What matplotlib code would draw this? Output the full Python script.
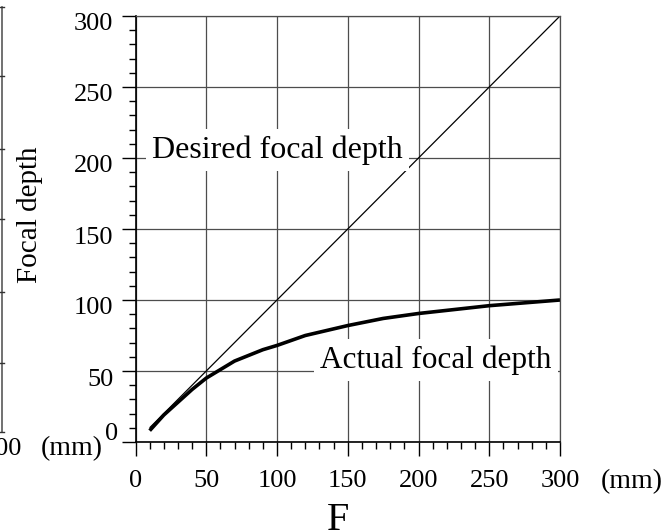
import numpy as np
import matplotlib
matplotlib.use("Agg")
import matplotlib.pyplot as plt
from matplotlib.ticker import MultipleLocator
from matplotlib.transforms import ScaledTranslation

plt.rcParams['font.family'] = ['Liberation Serif', 'DejaVu Serif']

# Focal length F (mm) and resulting focal depth (mm)
f_desired = [10, 300]
depth_desired = [10, 300]

f_actual = [10, 20, 30, 40, 50, 60, 70, 80, 90, 100, 120, 150, 175, 200, 250, 300]
depth_actual = [8, 19, 28, 37, 45, 51, 57, 61, 65, 68, 75, 82, 87, 90.5, 96, 100]

x_ticks = [0, 50, 100, 150, 200, 250, 300]
y_ticks = [0, 50, 100, 150, 200, 250, 300]

W, H = 666, 531
fig = plt.figure(figsize=(W / 100, H / 100), dpi=100)
ax = fig.add_axes([135.5 / W, 1 - 442 / H, (560 - 135.5) / W, (442 - 16) / H])

grid_col = '0.3'
ax.set_xlim(0, 300)
ax.set_ylim(0, 300)
ax.set_xticks(x_ticks)
ax.set_yticks(y_ticks)
ax.xaxis.set_minor_locator(MultipleLocator(10))
ax.yaxis.set_minor_locator(MultipleLocator(10))
ax.grid(True, which='major', color=grid_col, lw=0.9)
ax.set_axisbelow(True)
ax.tick_params(which='major', direction='out', length=10, width=1.0,
               labelsize=19, color='black')
ax.tick_params(which='minor', direction='out', length=5, width=1.0, color='black')
ax.tick_params(axis='x', pad=10)
ax.tick_params(axis='y', pad=6)
for s in ['left', 'bottom']:
    ax.spines[s].set_linewidth(1.2)
for s in ['top', 'right']:
    ax.spines[s].set_color(grid_col)
    ax.spines[s].set_linewidth(0.9)

# nudge y tick labels (0 sits up and in, others slightly down)
for lab, v in zip(ax.get_yticklabels(), y_ticks):
    dx, dy = (5, 10) if v == 0 else (0, -6)
    lab.set_transform(lab.get_transform() +
                      ScaledTranslation(dx / 100, dy / 100, fig.dpi_scale_trans))

ax.plot(f_desired, depth_desired, color='black', lw=0.9, solid_capstyle='butt')
ax.plot(f_actual, depth_actual, color='black', lw=2.6, solid_capstyle='butt')

box = dict(boxstyle='square,pad=0.2', fc='white', ec='none')
ax.text(11.7, 200, 'Desired focal depth', fontsize=23, ha='left', va='baseline', bbox=box)
ax.text(130.5, 52, 'Actual focal depth', fontsize=22.5, ha='left', va='baseline', bbox=box)

fig.text(30 / W, 1 - 215 / H, 'Focal depth', rotation=90, fontsize=21,
         ha='center', va='center')
fig.text(338 / W, 1 - 520 / H, 'F', fontsize=29, ha='center', va='center')
fig.text(632 / W, 1 - 482 / H, '(mm)', fontsize=20, ha='center', va='center')
fig.text(72 / W, 1 - 449 / H, '(mm)', fontsize=20, ha='center', va='center')
fig.text(22 / W, 1 - 449 / H, '300', fontsize=19, ha='right', va='center')

# edge of the neighbouring panel's axis
edge_x = 1.5 / W
fig.add_artist(plt.Line2D([edge_x, edge_x], [1 - 7 / H, 1 - 432 / H],
                          transform=fig.transFigure, color='0.35', lw=1.2))
for yp in [7, 76, 149, 219, 292, 363, 432]:
    fig.add_artist(plt.Line2D([0, 4 / W], [1 - yp / H, 1 - yp / H],
                              transform=fig.transFigure, color='0.2', lw=1.0))

fig.savefig('out.png', dpi=100)
